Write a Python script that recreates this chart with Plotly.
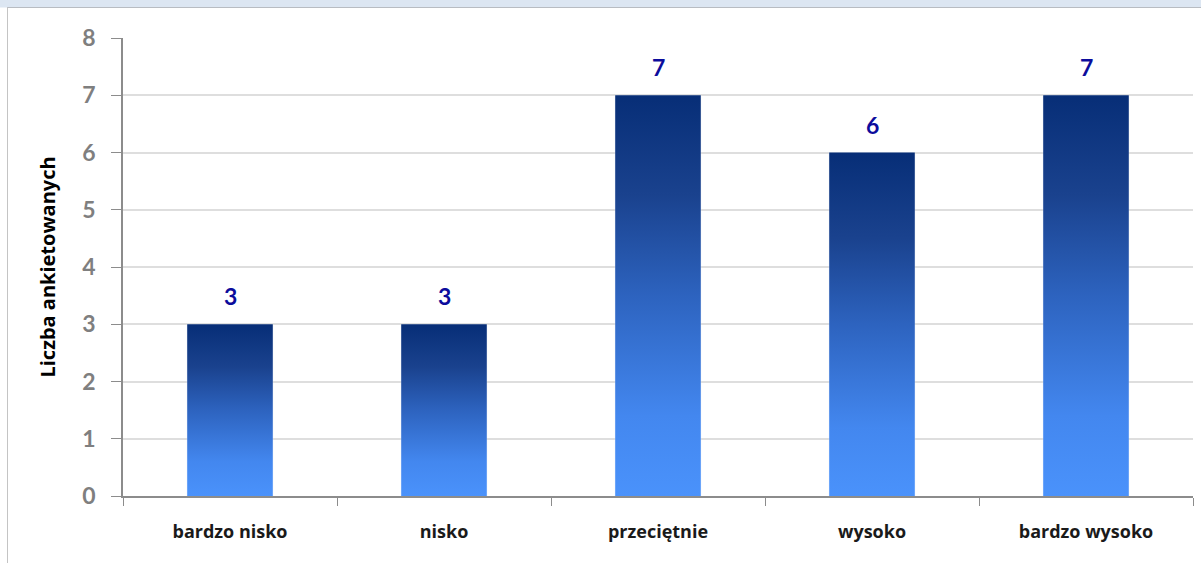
import plotly.graph_objects as go

categories = ["bardzo nisko", "nisko", "przeciętnie", "wysoko", "bardzo wysoko"]
values = [3, 3, 7, 6, 7]
y_ticks = [0, 1, 2, 3, 4, 5, 6, 7, 8]
y_title = "Liczba ankietowanych"

W, H = 1201, 563
ML, MR, MT, MB = 123, 8, 38, 67
PW, PH = W - ML - MR, H - MT - MB

bar_half = 0.2
gradient = [[0.0, "#4a92fb"], [0.2, "#4387ef"], [0.5, "#2d63bf"],
            [0.75, "#1a428e"], [1.0, "#072e77"]]

fig = go.Figure()

# invisible data carrier on the category axis
fig.add_trace(go.Bar(x=categories, y=values, marker_color="rgba(0,0,0,0)",
                     hoverinfo="skip", showlegend=False, xaxis="x", yaxis="y"))

# gradient bars drawn as filled polygons on an overlaying numeric axis
for i, v in enumerate(values):
    xs = [i - bar_half, i + bar_half, i + bar_half, i - bar_half, i - bar_half]
    ys = [0, 0, v, v, 0]
    fig.add_trace(go.Scatter(
        x=xs, y=ys, mode="lines", fill="toself", line=dict(width=0),
        fillgradient=dict(type="vertical", colorscale=gradient, start=0, stop=v),
        hoverinfo="skip", showlegend=False, xaxis="x2", yaxis="y"))

for i, v in enumerate(values):
    fig.add_annotation(x=i, y=v, xref="x2", yref="y", text=f"<b>{v}</b>",
                       showarrow=False, yshift=28,
                       font=dict(family="Lato, Open Sans, sans-serif", size=23, color="#0c0c9c"))

# frame decoration
def px(xp):
    return (xp - ML) / PW

def py(yp):
    return (H - MB - yp) / PH

fig.add_shape(type="rect", xref="paper", yref="paper", x0=px(-5), x1=px(W + 5),
              y0=py(7.5), y1=py(-5), fillcolor="#dce6f2", line=dict(width=0), layer="below")
fig.add_shape(type="line", xref="paper", yref="paper", x0=px(7), x1=px(W + 5),
              y0=py(7.5), y1=py(7.5), line=dict(color="#b8bcc2", width=1))
fig.add_shape(type="line", xref="paper", yref="paper", x0=px(7.5), x1=px(7.5),
              y0=py(7.5), y1=py(H + 5), line=dict(color="#c4c4c4", width=1))

label_font = "Open Sans, DejaVu Sans, sans-serif"

fig.update_layout(
    width=W, height=H,
    margin=dict(l=ML, r=MR, t=MT, b=MB),
    paper_bgcolor="white", plot_bgcolor="white",
    showlegend=False,
    bargap=0.6,
    xaxis=dict(type="category", categoryarray=categories, range=[-0.5, 4.5],
               tickson="boundaries", ticks="outside", ticklen=8, tickcolor="#8c8c8c",
               showline=True, linecolor="#8c8c8c", linewidth=1.5, showgrid=False,
               ticklabelstandoff=19,
               tickfont=dict(family=label_font, size=18, color="#1a1a1a", weight="bold"),
               fixedrange=True),
    xaxis2=dict(overlaying="x", range=[-0.5, 4.5], visible=False, fixedrange=True),
    yaxis=dict(range=[0, 8], tickvals=y_ticks, ticks="outside", ticklen=10,
               tickcolor="#8c8c8c", showline=True, linecolor="#8c8c8c", linewidth=1.5,
               showgrid=True, gridcolor="#dedede", gridwidth=1.5, zeroline=False,
               ticklabelstandoff=11,
               tickfont=dict(family="Lato, Open Sans, sans-serif", size=23, color="#7f7f7f",
                             weight="bold"),
               title=dict(text=y_title, standoff=21,
                          font=dict(family=label_font, size=20,
                                    color="#000000", weight="bold")),
               fixedrange=True),
)

fig.write_html("out.html", config={"displayModeBar": False},
               post_script="document.body.style.margin='0';")
